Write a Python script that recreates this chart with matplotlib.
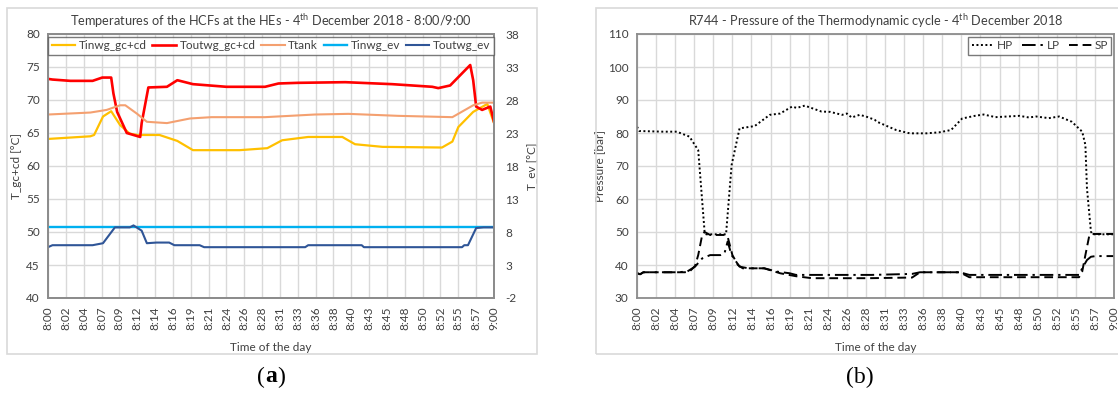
import matplotlib
matplotlib.use("Agg")
import matplotlib.pyplot as plt
from matplotlib.patches import Rectangle
import numpy as np

plt.rcParams['font.family'] = ['Lato', 'DejaVu Sans']
plt.rcParams['axes.unicode_minus'] = False

# minutes after 8:00 for every reading
t_gc = [0, 0.6, 3, 6, 7.3, 8.5, 8.8, 9.3, 10.6, 12.4, 12.6, 13.5, 16, 17.4, 19.5, 24, 29.2,
        31, 33.6, 40, 46.3, 51.7, 52.5, 54.1, 56.8, 57.2, 57.6, 58.4, 59.5, 60]
tout_gc = [73.2, 73.1, 72.9, 72.9, 73.4, 73.4, 71.0, 68.2, 65.0, 64.4, 66.5, 71.9, 72.0, 73.0, 72.4,
           72.0, 72.0, 72.5, 72.6, 72.7, 72.4, 72.0, 71.8, 72.2, 75.3, 73.0, 69.0, 68.5, 69.0, 66.7]

t_tank = [0, 5.7, 7.9, 9.7, 10.4, 12, 13.3, 16, 19.1, 22, 29.2, 35.9, 40.4, 47.1, 54.4, 57.2,
          58.4, 60]
ttank = [67.8, 68.1, 68.5, 69.2, 69.2, 67.9, 66.7, 66.5, 67.2, 67.4, 67.4, 67.8, 67.9, 67.6,
         67.4, 69.2, 69.6, 69.6]

t_in = [0, 5.7, 6.2, 7.4, 8.5, 9.7, 11, 12, 15, 17.4, 19.5, 25.8, 29.5, 31.5, 35, 39.6, 41.3,
        45, 53, 54.4, 55.2, 57.2, 59.1, 60]
tin_gc = [64.1, 64.5, 64.7, 67.5, 68.3, 66.2, 64.9, 64.7, 64.7, 63.8, 62.4, 62.4, 62.7, 63.9,
          64.4, 64.4, 63.3, 62.9, 62.8, 63.7, 65.9, 68.2, 69.4, 66.5]

t_ev = [0, 0.6, 6, 7.4, 9, 11, 11.5, 12.6, 13.3, 14.6, 16.3, 17, 20.4, 21, 34.6, 35, 42.2,
        42.5, 55.7, 56, 56.5, 57.6, 58.6, 60]
tout_ev = [5.7, 6.0, 6.0, 6.3, 8.7, 8.7, 9.0, 8.2, 6.3, 6.4, 6.4, 6.0, 6.0, 5.7, 5.7, 6.0, 6.0,
           5.7, 5.7, 6.0, 6.0, 8.6, 8.7, 8.7]
t_evin = [0, 60]
tin_ev = [8.7, 8.7]

t_hp = [0, 0.3, 3.3, 5, 6.6, 7.7, 8.5, 8.7, 11.2, 11.9, 12.9, 14.8, 16.7, 18, 19.5, 20.1, 21.1,
        23.2, 24.3, 25.8, 26.4, 27, 28, 28.8, 29.9, 30.2, 32.6, 34.3, 36.4, 38, 39.5, 40.9,
        42.5, 43.6, 45.1, 48.1, 49.3, 50.2, 51.8, 53.1, 54.7, 56, 56.4, 56.6, 57.1, 57.3, 60]
hp = [81.9, 80.6, 80.4, 80.4, 78.9, 74.8, 50.1, 49.3, 49.3, 70.3, 81.4, 82.1, 85.5, 85.9, 88.0,
      87.6, 88.3, 86.5, 86.4, 85.5, 85.9, 84.7, 85.5, 85.0, 84.0, 83.4, 80.9, 79.9, 79.9, 80.2,
      80.9, 84.4, 85.2, 85.6, 84.8, 85.2, 84.7, 85.0, 84.5, 85.0, 83.4, 80.4, 76.4, 63.2, 50.1,
      49.3, 49.3]

t_lp = [0, 0.4, 0.8, 5, 6.3, 7.3, 8.2, 9.2, 10.5, 11, 11.4, 11.9, 12.9, 14, 16, 17.6, 19.2,
        20, 29.5, 34.6, 35.6, 40.6, 41.8, 55.6, 56, 56.6, 57.1, 57.7, 60]
lp = [37.5, 37.2, 37.8, 37.8, 38.0, 39.5, 42.0, 43.0, 43.0, 43.5, 47.1, 43.0, 39.5, 39.0, 39.0,
      38.0, 37.5, 37.0, 37.0, 37.3, 37.8, 37.8, 37.0, 37.0, 39.0, 41.5, 42.5, 42.7, 42.7]

t_sp = [0, 0.4, 0.8, 6, 6.6, 7.3, 7.7, 8.2, 8.5, 9.2, 11, 11.4, 12, 12.7, 13.3, 16, 18, 20, 22,
        29.2, 34.6, 35.6, 40.6, 41.8, 55.6, 56, 56.4, 56.9, 57.3, 60]
sp = [37.5, 37.2, 37.8, 37.8, 38.0, 39.7, 43.0, 49.1, 50.0, 49.1, 49.1, 48.6, 43.0, 40.0, 39.0,
      39.0, 37.5, 36.6, 36.0, 36.0, 36.2, 37.8, 37.8, 36.3, 36.3, 38.0, 43.0, 49.0, 49.4, 49.4]

time_labels = ['8:00', '8:02', '8:04', '8:07', '8:09', '8:12', '8:14', '8:16', '8:19', '8:21',
               '8:24', '8:26', '8:28', '8:31', '8:33', '8:36', '8:38', '8:40', '8:43', '8:45',
               '8:48', '8:50', '8:52', '8:55', '8:57', '9:00']

W, H = 1118, 394
fig = plt.figure(figsize=(W / 100, H / 100), dpi=100)


def box(x0, y0, x1, y1):
    # pixel box -> figure fraction rect
    return [x0 / W, 1 - y1 / H, (x1 - x0) / W, (y1 - y0) / H]


# chart area frames
for x0, x1 in [(7, 537), (596, 1122)]:
    r = Rectangle((x0 / W, 1 - 354 / H), (x1 - x0) / W, 346 / H, transform=fig.transFigure,
                  fill=False, edgecolor='#d9d9d9', lw=1.2)
    fig.patches.append(r)

ticks = np.linspace(0, 60, len(time_labels))
tick_fs = 8.5
txt_c = '#404040'
grid_c = '#d9d9d9'


def style(ax):
    ax.set_xlim(0, 60)
    ax.set_xticks(ticks)
    ax.set_xticklabels(time_labels, rotation=90, fontsize=tick_fs, color=txt_c)
    ax.tick_params(length=0, pad=6)
    ax.grid(True, color=grid_c, lw=1)
    ax.set_axisbelow(True)
    for s in ax.spines.values():
        s.set_color('#8c8c8c')
        s.set_linewidth(1.3)
    ax.set_xlabel('Time of the day', fontsize=8.5, color=txt_c, labelpad=9)


# (a) temperatures
ax1 = fig.add_axes(box(48, 34, 494, 298))
style(ax1)
ax1.set_ylim(40, 80)
ax1.set_yticks(np.arange(40, 81, 5))
ax1.tick_params(axis='y', labelsize=tick_fs, labelcolor=txt_c)
ax1.set_ylabel('T_gc+cd [°C]', fontsize=8.5, color=txt_c, labelpad=3)

ax2 = ax1.twinx()
ax2.set_ylim(-2, 38)
ax2.set_yticks(np.arange(-2, 39, 5))
ax2.tick_params(length=0, labelsize=tick_fs, labelcolor=txt_c, pad=8)
for s in ax2.spines.values():
    s.set_color('#8c8c8c')
    s.set_linewidth(1.3)
ax2.set_ylabel('T_ev [°C]', fontsize=8.5, color=txt_c, labelpad=6)

l1, = ax1.plot(t_in, tin_gc, color='#FFC000', lw=1.6, label='Tinwg_gc+cd')
l2, = ax1.plot(t_gc, tout_gc, color='#FF0000', lw=1.9, label='Toutwg_gc+cd')
l3, = ax1.plot(t_tank, ttank, color='#F4A070', lw=1.5, label='Ttank')
l4, = ax2.plot(t_evin, tin_ev, color='#00B0F0', lw=1.7, label='Tinwg_ev')
l5, = ax2.plot(t_ev, tout_ev, color='#2F5597', lw=1.5, label='Toutwg_ev')

leg = ax2.legend(handles=[l1, l2, l3, l4, l5], ncol=5, loc='upper left',
                 bbox_to_anchor=(0.0, 0.99, 1.0, 0.0), mode='expand', fontsize=8.5,
                 frameon=True, fancybox=False, handlelength=2.0, handletextpad=0.3,
                 borderaxespad=0.0, borderpad=0.3)
leg.get_frame().set_edgecolor('#595959')
leg.get_frame().set_linewidth(1.0)
for tx in leg.get_texts():
    tx.set_color(txt_c)

ax1.set_title('Temperatures of the HCFs at the HEs - 4$^{\\mathregular{th}}$ December 2018 - 8:00/9:00',
              fontsize=9.2, color=txt_c, pad=6)

# (b) pressures
ax3 = fig.add_axes(box(637, 34, 1114, 298))
style(ax3)
ax3.set_ylim(30, 110)
ax3.set_yticks(np.arange(30, 111, 10))
ax3.tick_params(axis='y', labelsize=tick_fs, labelcolor=txt_c)
ax3.set_ylabel('Pressure [bar]', fontsize=8.5, color=txt_c, labelpad=2)

ax3.plot(t_hp, hp, color='black', lw=1.4, ls=(0, (1, 1.3)), label='HP')
ax3.plot(t_lp, lp, color='black', lw=1.4, ls=(0, (7, 2.5, 1.2, 2.5)), label='LP')
ax3.plot(t_sp, sp, color='black', lw=1.4, ls=(0, (4.5, 2.5)), label='SP')

leg2 = ax3.legend(ncol=3, loc='upper right', fontsize=8.5, frameon=True, fancybox=False,
                  handlelength=1.9, handletextpad=0.2, columnspacing=0.8,
                  borderaxespad=0.25, borderpad=0.3)
leg2.get_frame().set_edgecolor('#595959')
leg2.get_frame().set_linewidth(1.0)
for tx in leg2.get_texts():
    tx.set_color(txt_c)

ax3.set_title('R744 - Pressure of the Thermodynamic cycle - 4$^{\\mathregular{th}}$ December 2018',
              fontsize=9.2, color=txt_c, pad=6)

# panel captions
cap_a = (271 / W, 1 - 377 / H)
fig.text(*cap_a, 'a', fontsize=17, family='Liberation Serif', weight='bold',
         ha='center', va='center')
fig.text(*cap_a, '(', fontsize=17, family='Liberation Serif', ha='right', va='center',
         transform=fig.transFigure + matplotlib.transforms.ScaledTranslation(-4.5 / 72, 0, fig.dpi_scale_trans))
fig.text(*cap_a, ')', fontsize=17, family='Liberation Serif', ha='left', va='center',
         transform=fig.transFigure + matplotlib.transforms.ScaledTranslation(4.5 / 72, 0, fig.dpi_scale_trans))
fig.text(860 / W, 1 - 377 / H, '(b)', fontsize=17, family='Liberation Serif', ha='center',
         va='center')

fig.savefig('out.png', dpi=100)
